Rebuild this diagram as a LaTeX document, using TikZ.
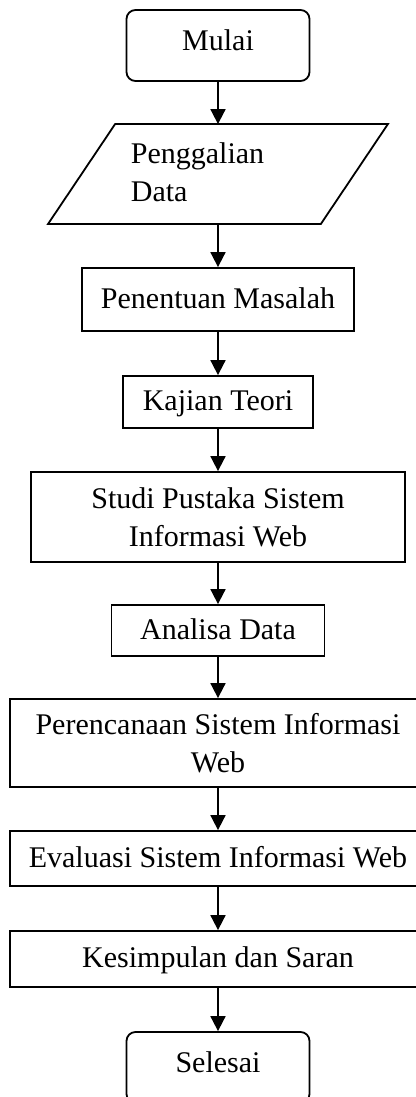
\documentclass[tikz,border=0pt]{standalone}
\usepackage{fontspec}
\setmainfont{Liberation Serif}
\usetikzlibrary{arrows.meta, calc}
\begin{document}
\begin{tikzpicture}[x=1pt, y=-1pt, line width=1.8pt,
  kotak/.style={draw, inner sep=0pt, align=center, font=\fontsize{30}{38}\selectfont},
  satu/.style={kotak, text height=21pt, text depth=4pt},
  terminal/.style={kotak, rounded corners=9pt, text height=21pt, text depth=11pt, minimum width=183pt, minimum height=71pt},
  panah/.style={-{Triangle[length=15pt,width=15pt]}}]
  \useasboundingbox (0,0) rectangle (415,1097);
  \node[terminal] (mulai) at (218,45.5) {Mulai};
  % input data
  \node[inner sep=0pt, minimum width=338pt, minimum height=98pt] (data) at (218,174) {};
  \draw ($(data.north west)+(67,0)$) -- (data.north east) -- ($(data.south east)+(-67,0)$) -- (data.south west) -- cycle;
  \node[anchor=west, align=left, inner sep=0pt, font=\fontsize{30}{38}\selectfont] (datatext) at (130,172) {Penggalian\\Data};
  \node[satu, minimum width=272pt, minimum height=63pt] (masalah) at (218,299.5) {Penentuan Masalah};
  \node[satu, minimum width=190pt, minimum height=52pt] (teori) at (218,402) {Kajian Teori};
  \node[kotak, minimum width=374pt, minimum height=90pt] (studi) at (218,517) {Studi Pustaka Sistem\\Informasi Web};
  \node[satu, minimum width=213pt, minimum height=51pt] (analisa) at (218,630.5) {Analisa Data};
  \node[kotak, minimum width=416pt, minimum height=88pt] (rencana) at (218,743) {Perencanaan Sistem Informasi\\Web};
  \node[satu, minimum width=416pt, minimum height=55pt] (evaluasi) at (218,858.5) {Evaluasi Sistem Informasi Web};
  \node[satu, minimum width=416pt, minimum height=56pt] (kesimpulan) at (218,959) {Kesimpulan dan Saran};
  \node[terminal] (selesai) at (218,1067.5) {Selesai};
  \draw[panah] (mulai) -- (data);
  \draw[panah] (data) -- (masalah);
  \draw[panah] (masalah) -- (teori);
  \draw[panah] (teori) -- (studi);
  \draw[panah] (studi) -- (analisa);
  \draw[panah] (analisa) -- (rencana);
  \draw[panah] (rencana) -- (evaluasi);
  \draw[panah] (evaluasi) -- (kesimpulan);
  \draw[panah] (kesimpulan) -- (selesai);
\end{tikzpicture}
\end{document}
